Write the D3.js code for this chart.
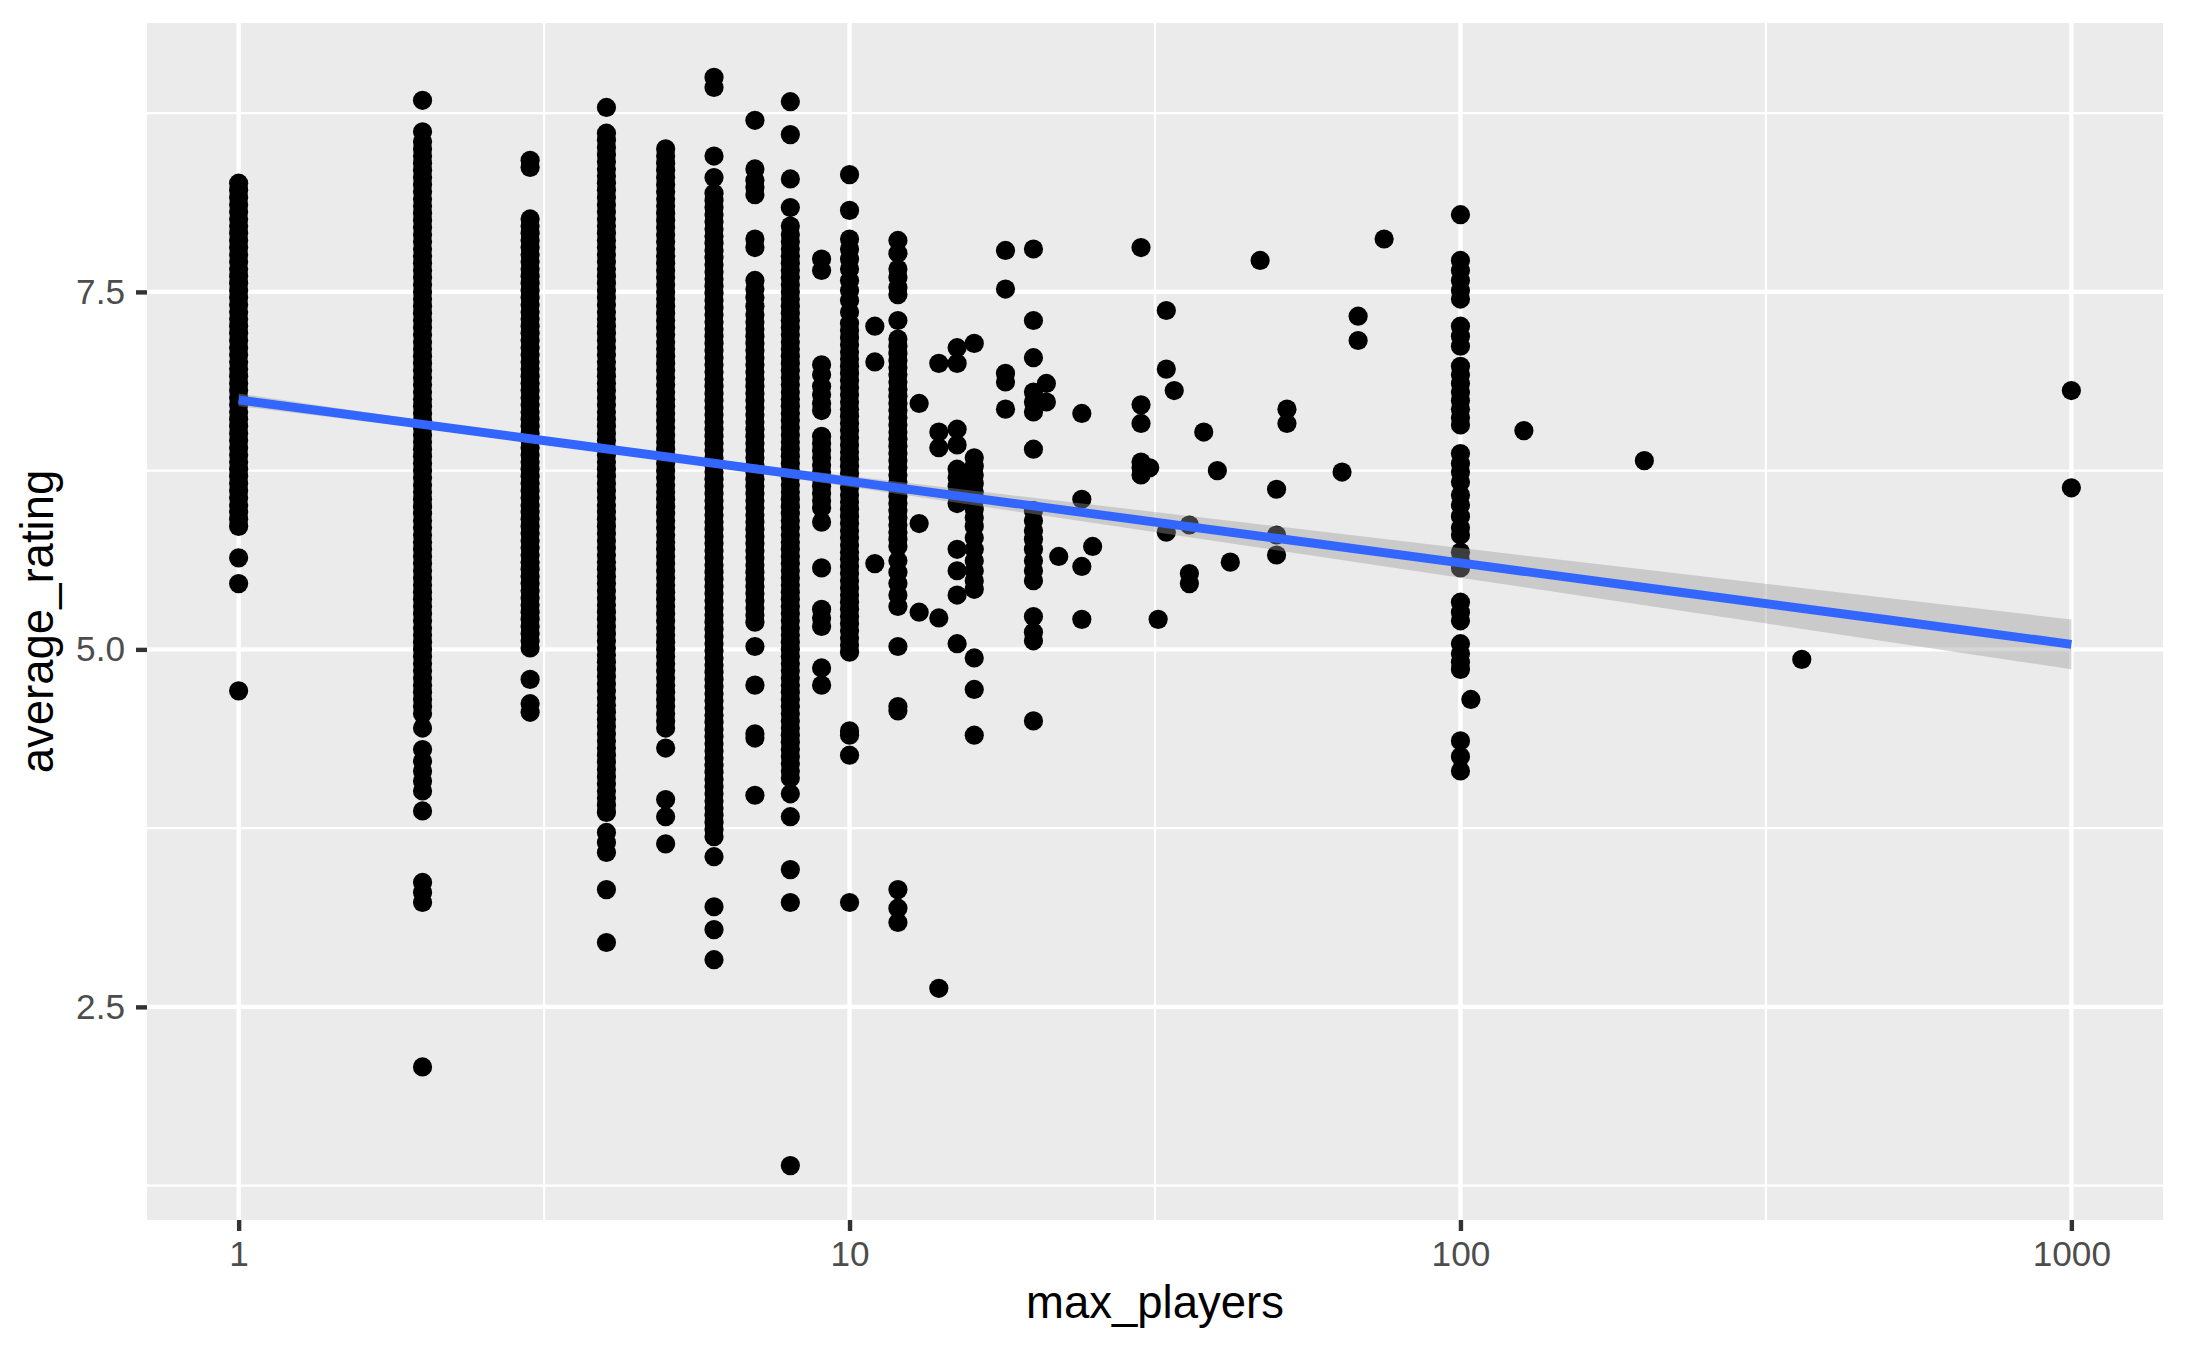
<!DOCTYPE html>
<html><head><meta charset="utf-8">
<script src="https://cdn.jsdelivr.net/npm/d3@7"></script>
<style>html,body{margin:0;padding:0;background:#fff;}svg{display:block}</style>
</head><body>
<svg id="chart" width="2186" height="1350"></svg>
<script>
// ---------------- data ----------------
const playerCounts = [1,2,3,4,5,6,7,8,9,10,11,12,13,14,15,16,18,20,21,22,24,25,30,31,32,33,34,36,38,40,42,47,50,52,64,68,75,100,104,127,200,362,1000];

const r1 = [8.26,8.21,8.16,8.11,8.06,8.01,7.96,7.91,7.86,7.81,7.76,7.71,7.66,7.61,7.56,7.51,7.46,7.41,7.36,7.31,7.26,7.21,7.16,7.11,7.06,7.01,6.96,6.91,6.86,6.81,6.76,6.71,6.66,6.61,6.56,6.51,6.46,6.41,6.36,6.31,6.26,6.21,6.16,6.11,6.06,6.01,5.96,5.91,5.86,5.64,5.46,4.71];
const r2 = [8.84,8.62,8.55,8.50,8.45,8.40,8.35,8.30,8.25,8.20,8.15,8.10,8.05,8.00,7.95,7.90,7.85,7.80,7.75,7.70,7.65,7.60,7.55,7.50,7.45,7.40,7.35,7.30,7.25,7.20,7.15,7.10,7.05,7.00,6.95,6.90,6.85,6.80,6.75,6.70,6.65,6.60,6.55,6.50,6.45,6.40,6.35,6.30,6.25,6.20,6.15,6.10,6.05,6.00,5.95,5.90,5.85,5.80,5.75,5.70,5.65,5.60,5.55,5.50,5.45,5.40,5.35,5.30,5.25,5.20,5.15,5.10,5.05,5.00,4.95,4.90,4.85,4.80,4.75,4.70,4.65,4.60,4.55,4.45,4.30,4.22,4.15,4.08,4.01,3.87,3.37,3.30,3.23,2.08];
const r3 = [8.42,8.37,8.01,7.96,7.91,7.86,7.81,7.76,7.71,7.66,7.61,7.56,7.51,7.46,7.41,7.36,7.31,7.26,7.21,7.16,7.11,7.06,7.01,6.96,6.91,6.86,6.81,6.76,6.71,6.66,6.61,6.56,6.51,6.46,6.41,6.36,6.31,6.26,6.21,6.16,6.11,6.06,6.01,5.96,5.91,5.86,5.81,5.76,5.71,5.66,5.61,5.56,5.51,5.46,5.41,5.36,5.31,5.26,5.21,5.16,5.11,5.06,5.01,4.79,4.62,4.56];
const r4 = [8.79,8.61,8.56,8.51,8.46,8.41,8.36,8.31,8.26,8.21,8.16,8.11,8.06,8.01,7.96,7.91,7.86,7.81,7.76,7.71,7.66,7.61,7.56,7.51,7.46,7.41,7.36,7.31,7.26,7.21,7.16,7.11,7.06,7.01,6.96,6.91,6.86,6.81,6.76,6.71,6.66,6.61,6.56,6.51,6.46,6.41,6.36,6.31,6.26,6.21,6.16,6.11,6.06,6.01,5.96,5.91,5.86,5.81,5.76,5.71,5.66,5.61,5.56,5.51,5.46,5.41,5.36,5.31,5.26,5.21,5.16,5.11,5.06,5.01,4.96,4.91,4.86,4.81,4.76,4.71,4.66,4.61,4.56,4.51,4.46,4.41,4.36,4.31,4.26,4.21,4.16,4.11,4.06,4.01,3.96,3.91,3.86,3.72,3.65,3.58,3.32,2.95];
const r5 = [8.50,8.45,8.40,8.35,8.30,8.25,8.20,8.15,8.10,8.05,8.00,7.95,7.90,7.85,7.80,7.75,7.70,7.65,7.60,7.55,7.50,7.45,7.40,7.35,7.30,7.25,7.20,7.15,7.10,7.05,7.00,6.95,6.90,6.85,6.80,6.75,6.70,6.65,6.60,6.55,6.50,6.45,6.40,6.35,6.30,6.25,6.20,6.15,6.10,6.05,6.00,5.95,5.90,5.85,5.80,5.75,5.70,5.65,5.60,5.55,5.50,5.45,5.40,5.35,5.30,5.25,5.20,5.15,5.10,5.05,5.00,4.95,4.90,4.85,4.80,4.75,4.70,4.65,4.60,4.55,4.50,4.45,4.31,3.95,3.83,3.64];
const r6 = [9.00,8.93,8.45,8.30,8.19,8.14,8.09,8.04,7.99,7.94,7.89,7.84,7.79,7.74,7.69,7.64,7.59,7.54,7.49,7.44,7.39,7.34,7.29,7.24,7.19,7.14,7.09,7.04,6.99,6.94,6.89,6.84,6.79,6.74,6.69,6.64,6.59,6.54,6.49,6.44,6.39,6.34,6.29,6.24,6.19,6.14,6.09,6.04,5.99,5.94,5.89,5.84,5.79,5.74,5.69,5.64,5.59,5.54,5.49,5.44,5.39,5.34,5.29,5.24,5.19,5.14,5.09,5.04,4.99,4.94,4.89,4.84,4.79,4.74,4.69,4.64,4.59,4.54,4.49,4.44,4.39,4.34,4.29,4.24,4.19,4.14,4.09,4.04,3.99,3.94,3.89,3.84,3.79,3.74,3.69,3.55,3.20,3.04,2.83];
const r7 = [8.70,8.36,8.28,8.23,8.18,7.87,7.81,7.58,7.52,7.46,7.40,7.34,7.29,7.24,7.19,7.14,7.09,7.04,6.99,6.94,6.89,6.84,6.79,6.74,6.69,6.64,6.59,6.54,6.49,6.44,6.39,6.34,6.29,6.24,6.19,6.14,6.09,6.04,5.99,5.94,5.89,5.84,5.79,5.74,5.69,5.64,5.59,5.54,5.49,5.44,5.39,5.34,5.29,5.24,5.19,5.02,4.75,4.41,4.38,3.98];
const r8 = [8.83,8.60,8.29,8.09,7.96,7.90,7.85,7.80,7.75,7.70,7.65,7.60,7.55,7.50,7.45,7.40,7.35,7.30,7.25,7.20,7.15,7.10,7.05,7.00,6.95,6.90,6.85,6.80,6.75,6.70,6.65,6.60,6.55,6.50,6.45,6.40,6.35,6.30,6.25,6.20,6.15,6.10,6.05,6.00,5.95,5.90,5.85,5.80,5.75,5.70,5.65,5.60,5.55,5.50,5.45,5.40,5.35,5.30,5.25,5.20,5.15,5.10,5.05,5.00,4.95,4.90,4.85,4.80,4.75,4.70,4.65,4.60,4.55,4.50,4.45,4.40,4.35,4.30,4.25,4.20,4.15,4.10,3.99,3.83,3.46,3.23,1.39];
const r9 = [7.73,7.65,6.99,6.92,6.84,6.78,6.72,6.67,6.49,6.44,6.39,6.34,6.29,6.24,6.19,6.14,6.09,6.04,5.99,5.89,5.57,5.28,5.22,5.16,4.87,4.75];
const r10 = [8.32,8.07,7.87,7.80,7.73,7.66,7.58,7.51,7.44,7.36,7.28,7.23,7.18,7.13,7.08,7.03,6.98,6.93,6.88,6.83,6.78,6.73,6.68,6.63,6.58,6.53,6.48,6.43,6.38,6.33,6.28,6.23,6.18,6.13,6.08,6.03,5.98,5.93,5.88,5.83,5.78,5.73,5.68,5.63,5.58,5.53,5.48,5.43,5.38,5.33,5.28,5.23,5.18,5.13,5.08,5.03,4.98,4.43,4.40,4.26,3.23];
const r11 = [7.26,7.01,5.60];
const r12 = [7.86,7.77,7.66,7.60,7.53,7.48,7.30,7.17,7.12,7.07,7.02,6.97,6.92,6.87,6.82,6.77,6.72,6.67,6.62,6.57,6.52,6.47,6.42,6.37,6.32,6.27,6.22,6.17,6.12,6.07,6.02,5.97,5.92,5.87,5.82,5.77,5.72,5.62,5.54,5.46,5.38,5.30,5.02,4.60,4.57,3.32,3.19,3.09];
const r13 = [6.72,5.88,5.26];
const r14 = [7.00,6.52,6.41,5.22,2.63];
const r15 = [7.11,7.00,6.54,6.43,6.26,6.20,6.14,6.08,6.02,5.70,5.55,5.38,5.04];
const r16 = [7.14,6.34,6.28,6.22,6.16,6.10,6.04,5.98,5.92,5.86,5.78,5.70,5.62,5.55,5.48,5.42,4.94,4.72,4.40];
const r18 = [7.79,7.52,6.93,6.87,6.68];
const r20 = [7.80,7.30,7.04,6.80,6.73,6.66,6.40,5.97,5.90,5.83,5.77,5.70,5.62,5.55,5.48,5.23,5.12,5.06,4.50];
const r21 = [6.86,6.73];
const r22 = [5.65];
const r24 = [6.65,6.05,5.58,5.21];
const r25 = [5.72];
const r30 = [7.81,6.71,6.58,6.31,6.27,6.22];
const r31 = [6.27];
const r32 = [5.21];
const r33 = [7.37,6.96,5.82];
const r34 = [6.81];
const r36 = [5.87,5.53,5.46];
const r38 = [6.52];
const r40 = [6.25];
const r42 = [5.61];
const r47 = [7.72];
const r50 = [6.12,5.80,5.66];
const r52 = [6.68,6.58];
const r64 = [6.24];
const r68 = [7.33,7.16];
const r75 = [7.87];
const r100 = [8.04,7.72,7.65,7.58,7.51,7.45,7.26,7.19,7.12,6.98,6.92,6.86,6.80,6.74,6.68,6.62,6.57,6.37,6.30,6.24,6.17,6.08,6.01,5.93,5.85,5.80,5.68,5.62,5.57,5.33,5.26,5.20,5.04,4.97,4.91,4.86,4.36,4.25,4.15];
const r104 = [4.65];
const r127 = [6.53];
const r200 = [6.32];
const r362 = [4.93];
const r1000 = [6.81,6.13];

const ratingGroups = [r1,r2,r3,r4,r5,r6,r7,r8,r9,r10,r11,r12,r13,r14,r15,r16,r18,r20,r21,r22,r24,r25,r30,r31,r32,r33,r34,r36,r38,r40,r42,r47,r50,r52,r64,r68,r75,r100,r104,r127,r200,r362,r1000];

// fitted linear smooth (lm on log10 x) and its 95% band
const fitX     = [1, 2, 3, 5, 10, 20, 50, 100, 200, 500, 1000];
const fitY     = [6.745, 6.573, 6.473, 6.347, 6.175, 6.003, 5.777, 5.605, 5.433, 5.207, 5.035];
const fitLower = [6.701, 6.546, 6.452, 6.324, 6.137, 5.946, 5.693, 5.501, 5.308, 5.054, 4.861];
const fitUpper = [6.789, 6.600, 6.494, 6.370, 6.213, 6.060, 5.861, 5.709, 5.558, 5.360, 5.209];

const xTickValues = [1, 10, 100, 1000];
const xTickLabels = ["1", "10", "100", "1000"];
const xMinorBreaks = [3.1623, 31.623, 316.23];
const yTickValues = [2.5, 5.0, 7.5];
const yTickLabels = ["2.5", "5.0", "7.5"];
const yMinorBreaks = [1.25, 3.75, 6.25, 8.75];
const xTitle = "max_players";
const yTitle = "average_rating";

// ---------------- drawing ----------------
const W = 2186, H = 1350;
const panel = {left: 147, right: 2163, top: 23, bottom: 1220};
const svg = d3.select("#chart");
svg.append("rect").attr("width", W).attr("height", H).attr("fill", "#ffffff");

const points = playerCounts.flatMap((p, i) => ratingGroups[i].map(r => ({p, r})));

const lx = d3.extent(playerCounts).map(Math.log10);
const lpad = (lx[1] - lx[0]) * 0.05;
const x = d3.scaleLog().domain([10 ** (lx[0] - lpad), 10 ** (lx[1] + lpad)]).range([panel.left, panel.right]);
const ye = d3.extent(points, d => d.r);
const ypad = (ye[1] - ye[0]) * 0.05;
const y = d3.scaleLinear().domain([ye[0] - ypad, ye[1] + ypad]).range([panel.bottom, panel.top]);

const FONT = "'Liberation Sans', Arial, Helvetica, sans-serif";

// panel background
svg.append("rect").attr("x", panel.left).attr("y", panel.top)
  .attr("width", panel.right - panel.left).attr("height", panel.bottom - panel.top)
  .attr("fill", "#EBEBEB");

const grid = svg.append("g");
// minor grid
grid.selectAll(".ymin").data(yMinorBreaks).join("line")
  .attr("x1", panel.left).attr("x2", panel.right)
  .attr("y1", d => y(d)).attr("y2", d => y(d))
  .attr("stroke", "#fff").attr("stroke-width", 2.2);
grid.selectAll(".xmin").data(xMinorBreaks).join("line")
  .attr("y1", panel.top).attr("y2", panel.bottom)
  .attr("x1", d => x(d)).attr("x2", d => x(d))
  .attr("stroke", "#fff").attr("stroke-width", 2.2);
// major grid
grid.selectAll(".ymaj").data(yTickValues).join("line")
  .attr("x1", panel.left).attr("x2", panel.right)
  .attr("y1", d => y(d)).attr("y2", d => y(d))
  .attr("stroke", "#fff").attr("stroke-width", 4.4);
grid.selectAll(".xmaj").data(xTickValues).join("line")
  .attr("y1", panel.top).attr("y2", panel.bottom)
  .attr("x1", d => x(d)).attr("x2", d => x(d))
  .attr("stroke", "#fff").attr("stroke-width", 4.4);

// points
svg.append("g").selectAll("circle").data(points).join("circle")
  .attr("cx", d => x(d.p)).attr("cy", d => y(d.r)).attr("r", 9.6)
  .attr("fill", "#000000");

// smooth band + line
const fit = fitX.map((v, i) => ({x: v, y: fitY[i], lo: fitLower[i], hi: fitUpper[i]}));
svg.append("path").datum(fit)
  .attr("d", d3.area().x(d => x(d.x)).y0(d => y(d.lo)).y1(d => y(d.hi)))
  .attr("fill", "#999999").attr("fill-opacity", 0.4);
svg.append("path").datum(fit)
  .attr("d", d3.line().x(d => x(d.x)).y(d => y(d.y)))
  .attr("fill", "none").attr("stroke", "#3366FF").attr("stroke-width", 8.9);

// axes
const xAxis = d3.axisBottom(x).tickValues(xTickValues)
  .tickFormat((d, i) => xTickLabels[i]).tickSize(11).tickPadding(10);
const gx = svg.append("g").attr("transform", `translate(0,${panel.bottom})`).call(xAxis);
const yAxis = d3.axisLeft(y).tickValues(yTickValues)
  .tickFormat((d, i) => yTickLabels[i]).tickSize(11).tickPadding(11);
const gy = svg.append("g").attr("transform", `translate(${panel.left},0)`).call(yAxis);
[gx, gy].forEach(g => {
  g.select(".domain").remove();
  g.selectAll(".tick line").attr("stroke", "#333333").attr("stroke-width", 4.4);
  g.selectAll(".tick text").attr("fill", "#4D4D4D")
    .style("font-family", FONT).style("font-size", "35.2px");
});

// titles
svg.append("text").attr("x", (panel.left + panel.right) / 2).attr("y", 1318)
  .attr("text-anchor", "middle").style("font-family", FONT).style("font-size", "45.5px")
  .attr("fill", "#000").text(xTitle);
svg.append("text").attr("transform", `translate(53,${(panel.top + panel.bottom) / 2}) rotate(-90)`)
  .attr("text-anchor", "middle").style("font-family", FONT).style("font-size", "45.5px")
  .attr("fill", "#000").text(yTitle);
</script>
</body></html>
